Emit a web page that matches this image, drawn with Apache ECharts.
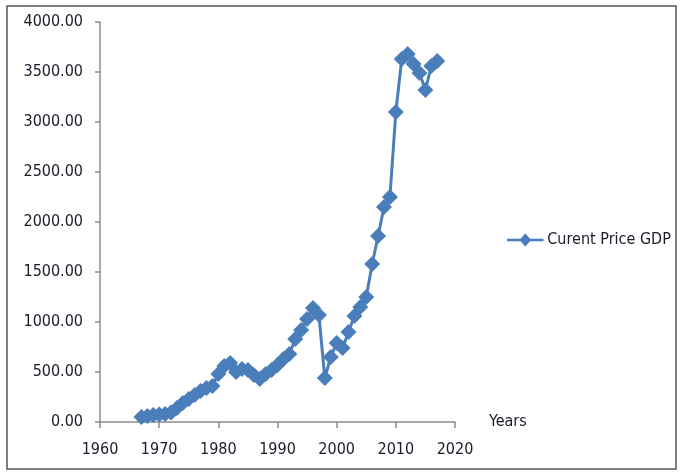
<!DOCTYPE html>
<html>
<head>
<meta charset="utf-8">
<script src="https://cdn.jsdelivr.net/npm/echarts@6/dist/echarts.min.js"></script>
<style>
html,body{margin:0;padding:0;background:#fff;}
#chart{width:683px;height:474px;}
</style>
</head>
<body>
<div id="chart"></div>
<script>
var years = [1967,1968,1969,1970,1971,1972,1973,1974,1975,1976,1977,1978,1979,1980,1981,1982,1983,1984,1985,1986,1987,1988,1989,1990,1991,1992,1993,1994,1995,1996,1997,1998,1999,2000,2001,2002,2003,2004,2005,2006,2007,2008,2009,2010,2011,2012,2013,2014,2015,2016,2017];
var gdp = [50,60,70,75,80,95,140,190,230,270,310,340,360,480,560,590,500,530,520,470,430,480,520,570,630,680,830,920,1030,1140,1070,440,650,790,740,900,1060,1150,1250,1580,1860,2150,2250,3100,3630,3680,3580,3490,3320,3560,3610];
var seriesName = 'Curent Price GDP';
var xAxisName = 'Years';

var FONT = "'DejaVu Sans Condensed','Liberation Sans Narrow','Open Sans',sans-serif";
var TXT = '#1a1a2a';
var chart = echarts.init(document.getElementById('chart'), null, {renderer:'canvas'});
chart.setOption({
  backgroundColor:'#fff',
  animation:false,
  graphic:[{type:'rect',shape:{x:7,y:6,width:669,height:463},style:{fill:'none',stroke:'#555',lineWidth:1.5},silent:true}],
  grid:{left:100,right:228,top:22,bottom:52,containLabel:false},
  legend:{
    show:true, orient:'vertical', left:502, top:227,
    itemWidth:38, itemHeight:13, itemGap:4,
    textStyle:{fontFamily:FONT,fontSize:16,color:TXT,padding:[0,0,0,-2]},
    data:[{name:seriesName,icon:'path://M0,5.5h14l5,-5.5l5,5.5h14v2.5h-14l-5,5.5l-5,-5.5h-14z'}]
  },
  xAxis:{
    type:'value', min:1960, max:2020, interval:10,
    name:xAxisName, nameLocation:'end', nameGap:34,
    nameTextStyle:{fontFamily:FONT,fontSize:16,color:TXT,verticalAlign:'middle'},
    axisLine:{show:true,lineStyle:{color:'#8c8c8c',width:1.5}},
    axisTick:{show:true,length:6,inside:false,lineStyle:{color:'#8c8c8c',width:1.5}},
    axisLabel:{fontFamily:FONT,fontSize:16,color:TXT,margin:20,formatter:function(v){return String(v);}},
    splitLine:{show:false}
  },
  yAxis:{
    type:'value', min:0, max:4000, interval:500,
    axisLine:{show:true,lineStyle:{color:'#8c8c8c',width:1.5}},
    axisTick:{show:true,length:5,inside:false,lineStyle:{color:'#8c8c8c',width:1.5}},
    axisLabel:{fontFamily:FONT,fontSize:16,color:TXT,margin:17,formatter:function(v){return v.toFixed(2);}},
    splitLine:{show:false}
  },
  series:[{
    name:seriesName, type:'line',
    data: years.map(function(y,i){return [y,gdp[i]];}),
    symbol:'diamond', symbolSize:16,
    lineStyle:{color:'#4a7ebb',width:3},
    itemStyle:{color:'#4a7ebb'},
    showAllSymbol:true
  }]
});
</script>
</body>
</html>
